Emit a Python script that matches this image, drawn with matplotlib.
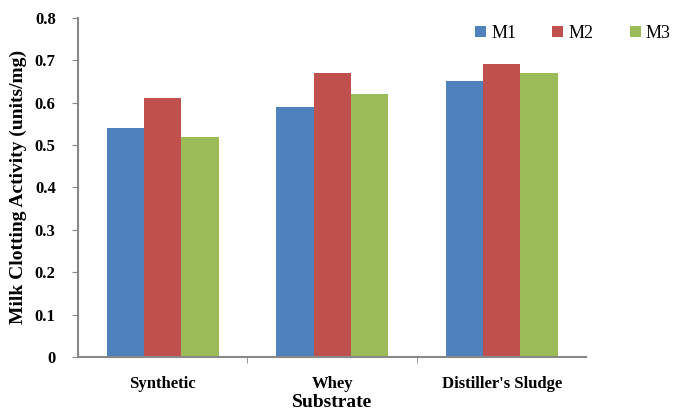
import matplotlib.pyplot as plt
import numpy as np

substrates = ["Synthetic", "Whey", "Distiller's Sludge"]
series_names = ["M1", "M2", "M3"]
m1 = [0.54, 0.59, 0.65]
m2 = [0.61, 0.67, 0.69]
m3 = [0.52, 0.62, 0.67]
colors = ["#4F81BD", "#C0504D", "#9BBB59"]

plt.rcParams["font.family"] = ["Liberation Serif", "DejaVu Serif"]

fig = plt.figure(figsize=(6.78, 4.15), dpi=100)
ax = fig.add_axes([0.115, 0.140, 0.75, 0.817])

x = np.arange(len(substrates))
w = 0.22
for i, (vals, name) in enumerate(zip([m1, m2, m3], series_names)):
    ax.bar(x + (i - 1) * w, vals, width=w, color=colors[i], label=name)

ax.set_xlim(-0.5, 2.5)
ax.set_ylim(0, 0.8)
ax.set_yticks(np.arange(0, 0.81, 0.1))
ax.set_yticklabels(["0"] + [f"{v:.1f}" for v in np.arange(0.1, 0.81, 0.1)])
ax.set_xticks(x)
ax.set_xticklabels(substrates, fontsize=12, fontweight="bold")
ax.set_xticks([0.5, 1.5], minor=True)
ax.tick_params(axis="x", which="major", length=0, pad=14)
ax.tick_params(axis="x", which="minor", length=4, color="#888888")
ax.tick_params(axis="y", length=4, color="#888888", labelsize=12, pad=12)
for lab in ax.get_yticklabels():
    lab.set_fontweight("bold")

for s in ["top", "right"]:
    ax.spines[s].set_visible(False)
for s in ["left", "bottom"]:
    ax.spines[s].set_color("#888888")
    ax.spines[s].set_linewidth(1.5)

ax.set_ylabel("Milk Clotting Activity (units/mg)", fontsize=14, fontweight="bold", labelpad=6)
ax.set_xlabel("Substrate", fontsize=14, fontweight="bold", labelpad=1)

fig.legend(loc="center", bbox_to_anchor=(0.845, 0.920), ncol=3, frameon=False,
           fontsize=13, handlelength=0.6, handleheight=0.6, handletextpad=0.3,
           columnspacing=2.0)

fig.savefig("out.png", dpi=100)
